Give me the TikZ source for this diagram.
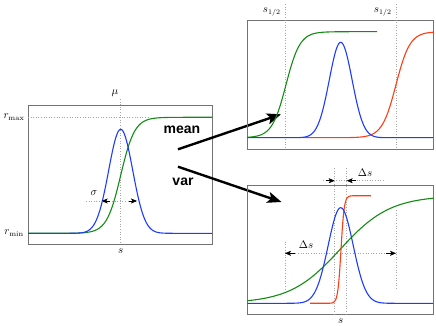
\documentclass[tikz,border=0pt]{standalone}
\usepackage{fontspec}
\newfontfamily\labelfont{Liberation Sans}
\usetikzlibrary{arrows.meta}
\definecolor{cblue}{RGB}{30,60,255}
\definecolor{cgreen}{RGB}{20,140,20}
\definecolor{cred}{RGB}{255,60,20}
\begin{document}
\begin{tikzpicture}[x=1pt,y=-1pt,
  declare function={gau(\t)=exp(-min(30,\t*\t)/2); sig(\t)=1/(1+exp(-max(-9,min(9,\t))));},
  frame/.style={draw=black!55, line width=0.8pt},
  guide/.style={draw=black!35, dotted, line width=0.6pt},
  curve/.style={line width=1.1pt},
  bigarrow/.style={line width=2.4pt, -{Stealth[length=14pt,width=11pt,inset=3pt]}},
  dimtip/.style={-{Stealth[length=6pt,width=5pt,inset=1.5pt]}, draw=black, line width=0.5pt},
  mathlab/.style={font=\fontsize{10.5}{12}\selectfont, inner sep=0pt},
  wordlab/.style={font=\labelfont\bfseries\fontsize{14}{16}\selectfont, inner sep=0pt}]
\useasboundingbox (0,0) rectangle (436,326);

% ---------- left panel ----------
\draw[frame] (28,105) rectangle (212,244);
\draw[guide] (28,117.3) -- (150,117.3);
\draw[guide] (120.7,99) -- (120.7,244);
\draw[curve, cgreen] plot[domain=28:212, samples=160] (\x,{233.3-116*sig((\x-120.7)/7)});
\draw[curve, cblue] plot[domain=28:212, samples=160] (\x,{233.3-104*gau((\x-120.7)/12)});
\node[mathlab] (rmax) at (14,117.3) {$r_{\mathrm{max}}$};
\node[mathlab] (rmin) at (14,233.3) {$r_{\mathrm{min}}$};
\node[mathlab] (mu) at (115,93) {$\mu$};
\node[mathlab] (sL) at (120.7,251) {$s$};
\node[mathlab] (sigma) at (94,193) {$\sigma$};
\coordinate (sgA) at (86,201);
\coordinate (sgL) at (101.7,201);
\coordinate (sgR) at (137,201);
\draw[guide] (sgA) -- (sgR);
\draw[dimtip] (sgL) ++(8,0) -- (sgL);
\draw[dimtip] (sgR) ++(-8,0) -- (sgR);

% ---------- labels and big arrows ----------
\node[wordlab] (mean) at (182,130) {mean};
\node[wordlab] (var) at (183,182) {var};
\coordinate (mA) at (178,149.3);
\coordinate (mB) at (281,114.3);
\coordinate (vA) at (178,166.7);
\coordinate (vB) at (281.5,202);
\draw[bigarrow] (mA) -- (mB);
\draw[bigarrow] (vA) -- (vB);

% ---------- top right panel ----------
\draw[frame] (247.3,20.7) rectangle (433,149);
\draw[guide] (285,4) -- (285,149);
\draw[guide] (396,4) -- (396,149);
\node[mathlab] (sh1) at (271.7,12) {$s_{1/2}$};
\node[mathlab] (sh2) at (382.7,12) {$s_{1/2}$};
\draw[curve, cgreen] plot[domain=247.3:377, samples=140] (\x,{137.7-106*sig((\x-286)/7)});
\draw[curve, cred] plot[domain=303:433, samples=140] (\x,{137.7-106*sig((\x-396)/7)});
\draw[curve, cblue] plot[domain=247.3:433, samples=180] (\x,{137.7-95.4*gau((\x-340.7)/11.4)});

% ---------- bottom right panel ----------
\draw[frame] (247.3,185) rectangle (433,314);
\draw[guide] (334.7,168) -- (334.7,315);
\draw[guide] (346.7,168) -- (346.7,315);
\node[mathlab] (sB) at (340.7,321) {$s$};
\coordinate (dtA) at (323,180.7);
\coordinate (dtL) at (334.7,180.7);
\coordinate (dtR) at (346.7,180.7);
\coordinate (dtB) at (383,180.7);
\draw[guide] (dtA) -- (dtB);
\draw[dimtip] (dtL) ++(-9,0) -- (dtL);
\draw[dimtip] (dtR) ++(9,0) -- (dtR);
\node[mathlab] (ds1) at (365,172.7) {$\Delta s$};
\draw[guide] (285,241.7) -- (285,290);
\draw[guide] (396,210) -- (396,290);
\coordinate (dbL) at (285,253.3);
\coordinate (dbR) at (396,253.3);
\draw[guide] (dbL) -- (dbR);
\draw[dimtip] (dbL) ++(10,0) -- (dbL);
\draw[dimtip] (dbR) ++(-10,0) -- (dbR);
\node[mathlab] (ds2) at (306,245) {$\Delta s$};
\draw[curve, cgreen] plot[domain=247.3:433, samples=160] (\x,{303.3-107.6*sig((\x-340)/25)});
\draw[curve, cred] plot[domain=310:371, samples=120] (\x,{303.3-107.6*sig((\x-341)/1.6)});
\draw[curve, cblue] plot[domain=247.3:433, samples=180] (\x,{303.3-95.6*gau((\x-340.7)/12.5)});
\end{tikzpicture}
\end{document}
